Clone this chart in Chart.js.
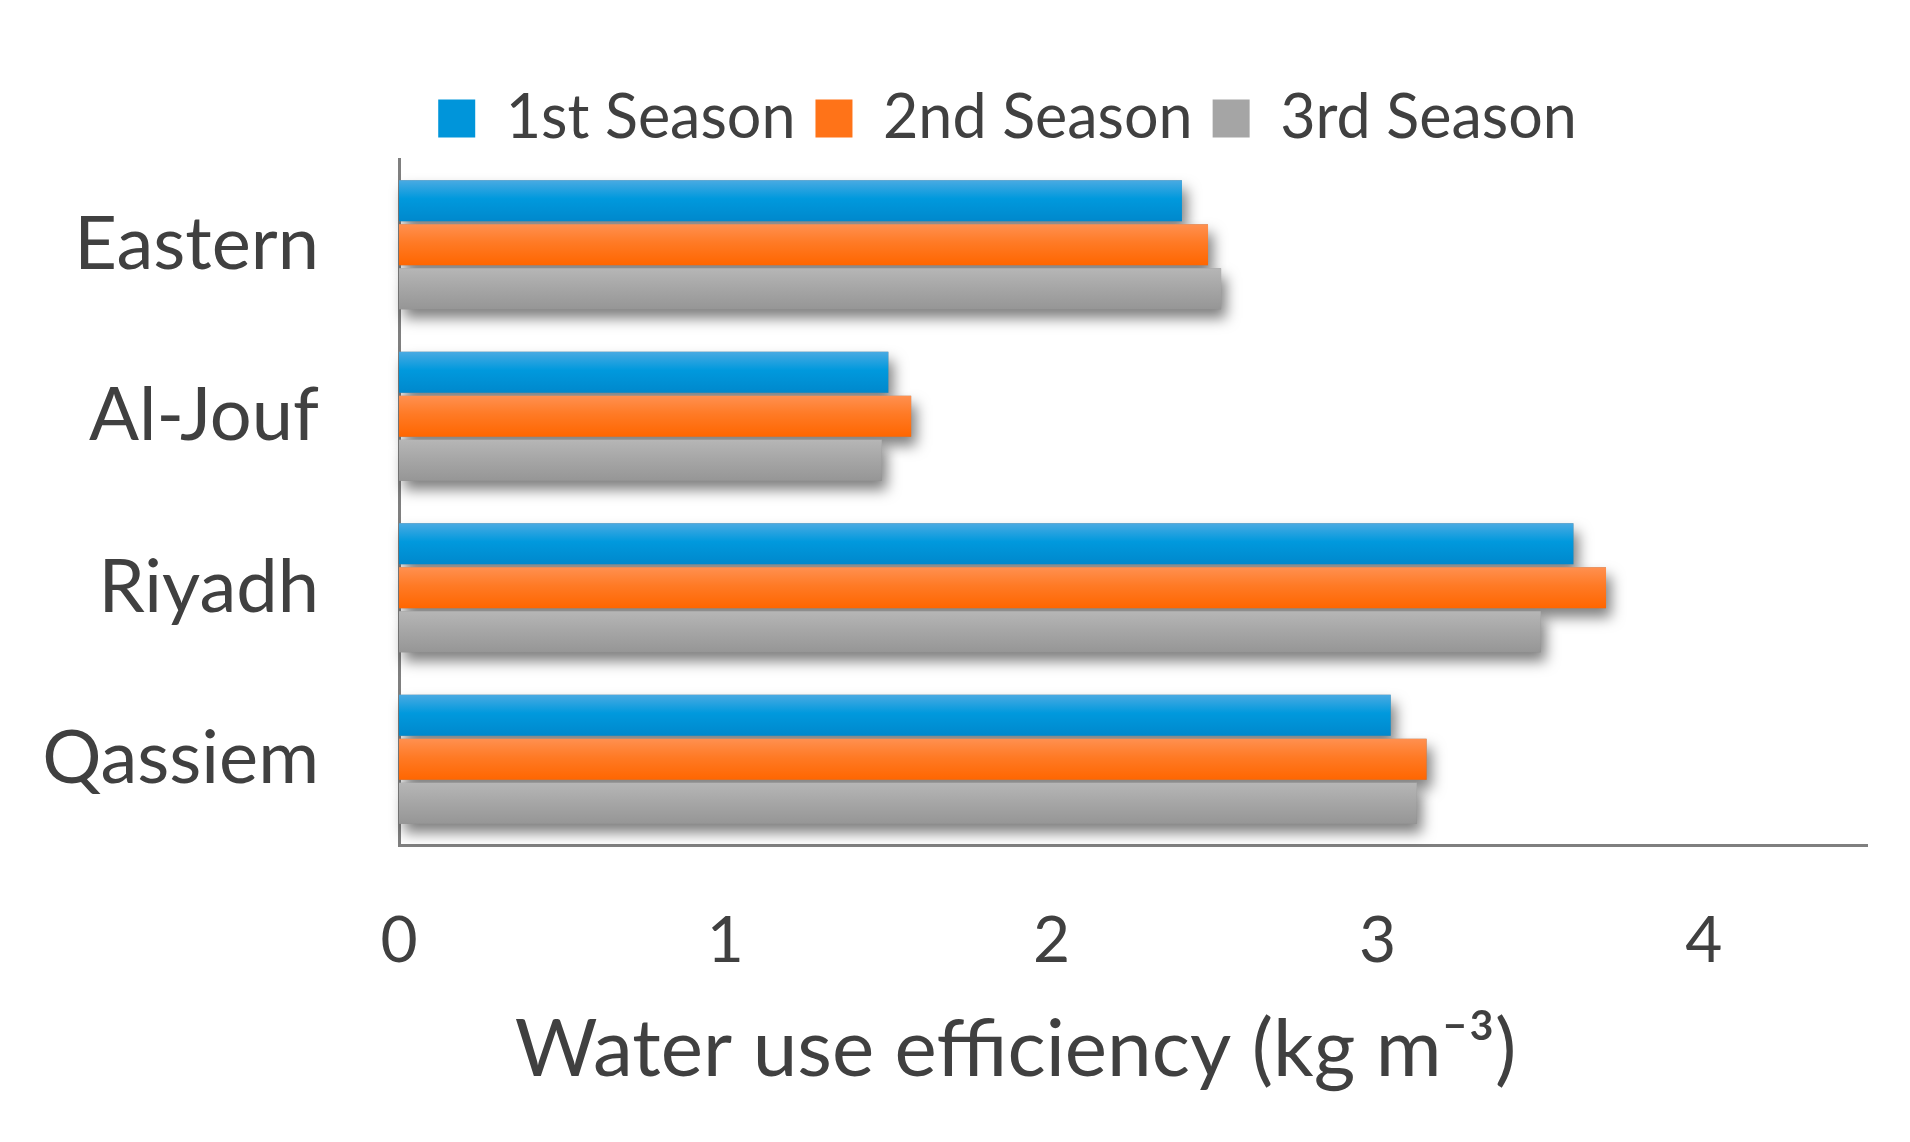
<!DOCTYPE html>
<html>
<head>
<meta charset="utf-8">
<script src="https://cdn.jsdelivr.net/npm/chart.js@4.4.1/dist/chart.umd.min.js"></script>
<style>
html,body{margin:0;background:#fff}
#wrap{width:1910px;height:1142px}
</style>
</head>
<body>
<div id="wrap"><canvas id="chart"></canvas></div>
<script>
const regions = ['Eastern', 'Al-Jouf', 'Riyadh', 'Qassiem'];
const season1 = [2.40, 1.50, 3.60, 3.04];
const season2 = [2.48, 1.57, 3.70, 3.15];
const season3 = [2.52, 1.48, 3.50, 3.12];
const seasonNames = ['1st Season', '2nd Season', '3rd Season'];
const xTicks = [0, 1, 2, 3, 4];
const axisTitle = 'Water use efficiency (kg m\u207B\u00B3)';

const textColor = '#404040';
const solid = ['#0095da', '#ff7318', '#a5a5a5'];
const shades = [
	['#4aaae2', '#0099dd', '#0088cc'],
	['#ff9050', '#ff7a25', '#ff6600'],
	['#b6b6b6', '#a7a7a7', '#969696']
];

// gradients on each bar + soft drop shadow under all bars
const barLook = {
	id: 'barLook',
	beforeDatasetsDraw(chart){
		const ctx = chart.ctx;
		ctx.save();
		ctx.shadowColor = 'rgba(0,0,0,0.5)';
		ctx.shadowBlur = 14;
		ctx.shadowOffsetX = 5;
		ctx.shadowOffsetY = 9;
		ctx.fillStyle = '#888';
		chart.data.datasets.forEach((ds, i) => {
			const meta = chart.getDatasetMeta(i);
			meta.data.forEach(bar => {
				const top = bar.y - bar.height / 2;
				const left = Math.min(bar.base, bar.x);
				const w = Math.abs(bar.x - bar.base);
				ctx.fillRect(left, top, w, bar.height);
				const g = ctx.createLinearGradient(0, top, 0, top + bar.height);
				g.addColorStop(0, shades[i][0]);
				g.addColorStop(0.45, shades[i][1]);
				g.addColorStop(1, shades[i][2]);
				// options are shared between bars, so give each its own copy
				bar.options = Object.assign({}, bar.options, { backgroundColor: g });
			});
		});
		ctx.restore();
	}
};

// legend in the original is centred a bit right of the canvas middle
const legendShift = {
	id: 'legendShift',
	afterLayout(chart){
		chart.legend.left += 64;
		chart.legend.right += 64;
	}
};

// axis title sits left of the plot centre in the original
const xTitle = {
	id: 'xTitle',
	afterDraw(chart){
		const ctx = chart.ctx;
		const a = chart.chartArea;
		ctx.save();
		ctx.font = '80px Lato';
		ctx.fillStyle = textColor;
		ctx.textAlign = 'center';
		ctx.textBaseline = 'middle';
		ctx.fillText(axisTitle, a.left + (a.right - a.left) * 0.42, 1050);
		ctx.restore();
	}
};

new Chart(document.getElementById('chart'), {
	type: 'bar',
	data: {
		labels: regions,
		datasets: [
			{ label: seasonNames[0], data: season1, backgroundColor: solid[0] },
			{ label: seasonNames[1], data: season2, backgroundColor: solid[1] },
			{ label: seasonNames[2], data: season3, backgroundColor: solid[2] }
		]
	},
	options: {
		indexAxis: 'y',
		responsive: true,
		maintainAspectRatio: false,
		animation: false,
		devicePixelRatio: 1,
		categoryPercentage: 0.77,
		barPercentage: 0.93,
		layout: { padding: { left: 20, right: 43, top: 68, bottom: 10 } },
		plugins: {
			tooltip: { enabled: false },
			legend: {
				position: 'top',
				labels: {
					color: textColor,
					font: { family: 'Lato', size: 61 },
					boxWidth: 37,
					boxHeight: 38,
					padding: 20
				}
			}
		},
		scales: {
			x: {
				min: 0,
				max: 4.5,
				grid: { display: false },
				border: { color: '#7f7f7f', width: 3 },
				afterBuildTicks: s => { s.ticks = xTicks.map(v => ({ value: v })); },
				afterFit: s => { s.height = 1142 - 845 - 10; },
				ticks: {
					color: textColor,
					font: { family: 'Lato', size: 64 },
					padding: 50,
					maxRotation: 0
				}
			},
			y: {
				grid: { display: false },
				border: { color: '#7f7f7f', width: 3 },
				afterFit: s => { s.width = 379; },
				ticks: {
					color: textColor,
					font: { family: 'Lato', size: 74 },
					padding: 72
				}
			}
		}
	},
	plugins: [barLook, legendShift, xTitle]
});
</script>
</body>
</html>
